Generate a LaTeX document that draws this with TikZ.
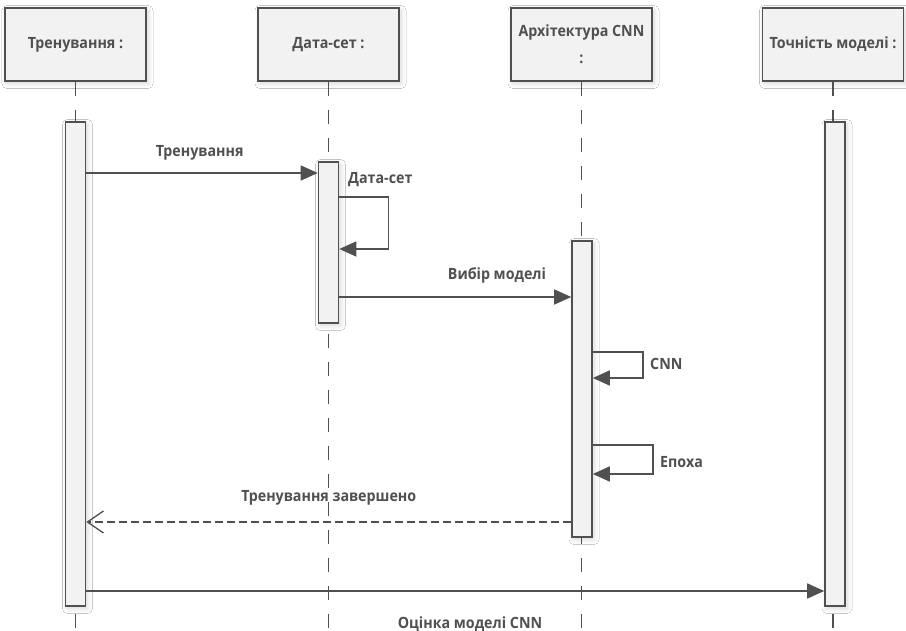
\documentclass[tikz,border=0pt]{standalone}
\usepackage{fontspec}
\setmainfont{Open Sans}[FakeStretch=0.92]
\usetikzlibrary{arrows.meta,shadows.blur}
\definecolor{ink}{HTML}{505050}
\definecolor{boxfill}{HTML}{F2F2F2}
\def\lblfont{\fontsize{15.5}{18}\selectfont\bfseries}
\tikzset{
  soft/.style={blur shadow={shadow xshift=2pt,shadow yshift=-2.5pt,shadow blur radius=5pt,
    shadow blur steps=12,shadow opacity=16}},
  head/.style={draw=ink,fill=boxfill,line width=1.6pt,minimum width=141pt,minimum height=73pt,
    align=center,text=ink,font=\lblfont,soft},
  bar/.style={draw=ink,fill=boxfill,line width=1.6pt,minimum width=20pt,inner sep=0pt,soft},
  life/.style={draw=ink,line width=1.6pt,dash pattern=on 14pt off 14pt},
  msg/.style={draw=ink,line width=1.6pt,-{Triangle[length=17pt,width=15pt]}},
  ret/.style={draw=ink,line width=1.3pt,dash pattern=on 8pt off 4pt,
    -{Straight Barb[length=16pt,width=22pt,line width=1.3pt]}},
  txt/.style={text=ink,font=\lblfont,inner sep=0pt,anchor=base},
}
\begin{document}
\begin{tikzpicture}[x=1pt,y=-1pt]
\path[use as bounding box,fill=white] (0,0) rectangle (906,631);
% objects
\node[head] (hTr)   at (75.5,44.5)  {Тренування :};
\node[head] (hDs)   at (328.5,44.5) {Дата-сет :};
\node[head] (hArch) at (581.5,44.5) {Архітектура CNN\\[9pt]:};
\node[head] (hAcc)  at (833,44.5)   {Точність моделі :};
\foreach \h in {hTr,hDs,hArch,hAcc}
  \draw[life] (\h.south) -- (\h.south |- 0,631);
% activations
\node[bar,minimum height=484pt] (aTr)   at (75.5,364)  {};
\node[bar,minimum height=161pt] (aDs)   at (328.5,242.5) {};
\node[bar,minimum height=296pt] (aArch) at (582,389)   {};
\node[bar,minimum height=484pt] (aAcc)  at (835,364)   {};
% messages
\draw[msg] (aTr.east |- 0,173) -- node[txt,pos=.49,yshift=16pt] (lTrain) {Тренування} (aDs.west |- 0,173);
\draw[msg] (aDs.east |- 0,197) -- ++(49,0) |- (aDs.east |- 0,249);
\node[txt,anchor=base west] (lSet) at (348,184) {Дата-сет};
\draw[msg] (aDs.east |- 0,297) -- node[txt,pos=.68,yshift=17pt] (lPick) {Вибір моделі} (aArch.west |- 0,297);
\draw[msg] (aArch.east |- 0,352) -- ++(50,0) |- (aArch.east |- 0,378);
\node[txt,anchor=base west] (lCnn) at (650,370) {CNN};
\draw[msg] (aArch.east |- 0,445) -- ++(60,0) |- (aArch.east |- 0,474);
\node[txt,anchor=base west] (lEpoch) at (660,467) {Епоха};
\draw[ret] (aArch.west |- 0,522) -- node[txt,pos=.5,yshift=21pt] (lDone) {Тренування завершено} (aTr.east |- 0,522);
\draw[msg] (aTr.east |- 0,591) -- node[txt,pos=.52,yshift=-37pt] (lEval) {Оцінка моделі CNN} (aAcc.west |- 0,591);
\end{tikzpicture}
\end{document}
